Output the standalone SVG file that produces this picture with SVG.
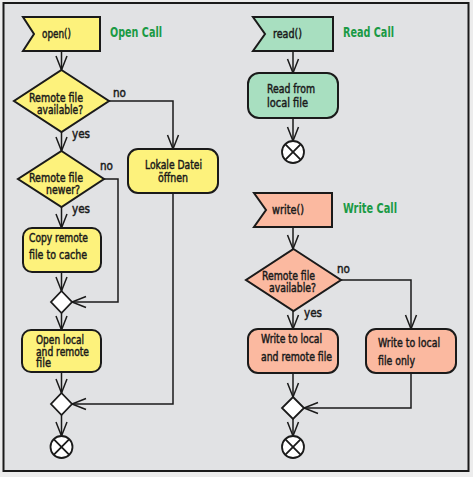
<svg xmlns="http://www.w3.org/2000/svg" width="473" height="477" viewBox="0 0 473 477">
<style>
.t{font-family:"Liberation Sans Narrow","DejaVu Sans Condensed","Liberation Sans",sans-serif;font-size:12.5px;fill:#1a1a1a;stroke:#1a1a1a;stroke-width:0.45px}
.h{font-family:"Liberation Sans Narrow","DejaVu Sans Condensed","Liberation Sans",sans-serif;font-size:14px;font-weight:bold;fill:#1a9a45}
.y{fill:#fdf27c;stroke:#1a1a1a;stroke-width:2}
.g{fill:#a8dfc0;stroke:#1a1a1a;stroke-width:2}
.s{fill:#fbb9a0;stroke:#1a1a1a;stroke-width:2}
.w{fill:#ffffff;stroke:#1a1a1a;stroke-width:1.8}
.c{fill:none;stroke:#1a1a1a;stroke-width:1.5;marker-end:url(#a)}
.x{stroke:#1a1a1a;stroke-width:1.8}
</style>
<defs>
<marker id="a" markerUnits="userSpaceOnUse" markerWidth="18" markerHeight="14" refX="15" refY="6" orient="auto" overflow="visible">
<path d="M1,0.5 L15,6 L1,11.5" fill="none" stroke="#1a1a1a" stroke-width="1.5"/>
</marker>
</defs>
<rect x="0" y="0" width="473" height="477" fill="#ececec"/>
<rect x="3.5" y="3" width="465" height="468" fill="#e1e2e4" stroke="#1a1a1a" stroke-width="2"/>

<g id="connectors">
<path class="c" d="M61.5,51 V70"/>
<path class="c" d="M61.5,132 V151"/>
<path class="c" d="M109,101 H173 V149"/>
<path class="c" d="M61.5,207 V228"/>
<path class="c" d="M104,179 H118 V302 H72"/>
<path class="c" d="M61.5,272 V291"/>
<path class="c" d="M61.5,313 V330"/>
<path class="c" d="M61.5,372 V393"/>
<path class="c" d="M173,193 V404 H72"/>
<path class="c" d="M61.5,415 V436"/>
<path class="c" d="M293,51 V73"/>
<path class="c" d="M293,118 V141"/>
<path class="c" d="M293,227 V249"/>
<path class="c" d="M341,280 H411 V329"/>
<path class="c" d="M293,311 V329"/>
<path class="c" d="M293,373 V397"/>
<path class="c" d="M411,373 V408 H304"/>
<path class="c" d="M293,419 V436"/>
</g>

<g id="open">
<polygon class="y" points="23,17 100,17 100,51 23,51 34,34"/>
<text class="t" x="42" y="38" textLength="29" lengthAdjust="spacingAndGlyphs">open()</text>
</g>
<text class="h" x="110" y="37" textLength="52" lengthAdjust="spacingAndGlyphs">Open Call</text>

<g id="dec1">
<polygon class="y" points="61.5,70 109,101 61.5,132 14,101"/>
<text class="t" x="29" y="102" textLength="54" lengthAdjust="spacingAndGlyphs">Remote file</text>
<text class="t" x="37" y="113.5" textLength="46" lengthAdjust="spacingAndGlyphs">available?</text>
</g>
<text class="t" x="113" y="97" textLength="13" lengthAdjust="spacingAndGlyphs">no</text>
<text class="t" x="72" y="138" textLength="18" lengthAdjust="spacingAndGlyphs">yes</text>

<g id="dec2">
<polygon class="y" points="61.5,151 104,179 61.5,207 18,179"/>
<text class="t" x="29" y="182" textLength="54" lengthAdjust="spacingAndGlyphs">Remote file</text>
<text class="t" x="46" y="194" textLength="34" lengthAdjust="spacingAndGlyphs">newer?</text>
</g>
<text class="t" x="100" y="170" textLength="13" lengthAdjust="spacingAndGlyphs">no</text>
<text class="t" x="72" y="213" textLength="18" lengthAdjust="spacingAndGlyphs">yes</text>

<g id="copy">
<rect class="y" x="23" y="228" width="78" height="44" rx="9"/>
<text class="t" x="29" y="242" textLength="59" lengthAdjust="spacingAndGlyphs">Copy remote</text>
<text class="t" x="29" y="259" textLength="58" lengthAdjust="spacingAndGlyphs">file to cache</text>
</g>

<g id="lokale">
<rect class="y" x="128" y="149" width="90" height="44" rx="10"/>
<text class="t" x="145" y="169" textLength="57" lengthAdjust="spacingAndGlyphs">Lokale Datei</text>
<text class="t" x="158" y="182" textLength="30" lengthAdjust="spacingAndGlyphs">öffnen</text>
</g>

<g id="merge1">
<polygon class="w" points="61.5,291 72,302 61.5,313 51,302"/>
</g>

<g id="openlocal">
<rect class="y" x="22" y="330" width="79" height="42" rx="9"/>
<text class="t" x="36" y="344" textLength="48" lengthAdjust="spacingAndGlyphs">Open local</text>
<text class="t" x="36" y="356" textLength="53" lengthAdjust="spacingAndGlyphs">and remote</text>
<text class="t" x="36" y="367" textLength="15" lengthAdjust="spacingAndGlyphs">file</text>
</g>

<g id="merge2">
<polygon class="w" points="61.5,393 72,404 61.5,415 51,404"/>
</g>

<g id="end1">
<circle class="w" cx="61.5" cy="447" r="11"/>
<path class="x" d="M53.7,439.2 L69.3,454.8 M69.3,439.2 L53.7,454.8"/>
</g>

<g id="read">
<polygon class="g" points="253,17 333,17 333,51 253,51 265,34"/>
<text class="t" x="273" y="38" textLength="29" lengthAdjust="spacingAndGlyphs">read()</text>
</g>
<text class="h" x="343" y="37" textLength="51" lengthAdjust="spacingAndGlyphs">Read Call</text>

<g id="readlocal">
<rect class="g" x="248" y="73" width="90" height="45" rx="11"/>
<text class="t" x="267" y="93" textLength="48" lengthAdjust="spacingAndGlyphs">Read from</text>
<text class="t" x="267" y="107" textLength="41" lengthAdjust="spacingAndGlyphs">local file</text>
</g>

<g id="end2">
<circle class="w" cx="293" cy="152" r="11"/>
<path class="x" d="M285.2,144.2 L300.8,159.8 M300.8,144.2 L285.2,159.8"/>
</g>

<g id="write">
<polygon class="s" points="254,193 332,193 332,227 254,227 266,210"/>
<text class="t" x="272" y="214" textLength="32" lengthAdjust="spacingAndGlyphs">write()</text>
</g>
<text class="h" x="343" y="213" textLength="54" lengthAdjust="spacingAndGlyphs">Write Call</text>

<g id="dec3">
<polygon class="s" points="293.5,249 341,280 293.5,311 246,280"/>
<text class="t" x="262" y="280" textLength="53" lengthAdjust="spacingAndGlyphs">Remote file</text>
<text class="t" x="269" y="292" textLength="47" lengthAdjust="spacingAndGlyphs">available?</text>
</g>
<text class="t" x="337" y="273" textLength="13" lengthAdjust="spacingAndGlyphs">no</text>
<text class="t" x="304" y="317" textLength="18" lengthAdjust="spacingAndGlyphs">yes</text>

<g id="writeboth">
<rect class="s" x="248" y="329" width="90" height="44" rx="10"/>
<text class="t" x="261" y="343" textLength="61" lengthAdjust="spacingAndGlyphs">Write to local</text>
<text class="t" x="261" y="361" textLength="71" lengthAdjust="spacingAndGlyphs">and remote file</text>
</g>

<g id="writelocal">
<rect class="s" x="366" y="329" width="90" height="44" rx="10"/>
<text class="t" x="378" y="347" textLength="62" lengthAdjust="spacingAndGlyphs">Write to local</text>
<text class="t" x="378" y="365" textLength="37" lengthAdjust="spacingAndGlyphs">file only</text>
</g>

<g id="merge3">
<polygon class="w" points="293,397 304,408 293,419 282,408"/>
</g>

<g id="end3">
<circle class="w" cx="293" cy="447" r="11"/>
<path class="x" d="M285.2,439.2 L300.8,454.8 M300.8,439.2 L285.2,454.8"/>
</g>
</svg>
